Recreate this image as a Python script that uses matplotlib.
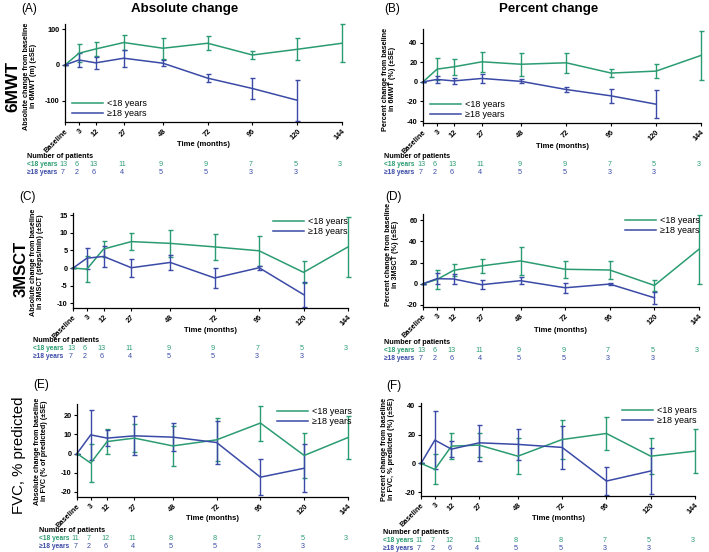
#import packages
import numpy as np
import matplotlib
matplotlib.use('Agg')
import matplotlib.pyplot as plt
from matplotlib.lines import Line2D
from matplotlib.transforms import blended_transform_factory

plt.rcParams['font.family'] = ['Liberation Sans', 'DejaVu Sans']

#time points
tick_labels = ['Baseline', '3', '12', '27', '48', '72', '96', '120', '144']
months = [0, 3, 12, 27, 48, 72, 96, 120, 144]

#6MWT absolute change (m)
mwt_abs_lt18 = [0, 33, 45, 63, 47, 61, 28, 44, 61]
mwt_abs_lt18_se = [0, 25, 20, 22, 30, 20, 12, 31, 53]
mwt_abs_ge18 = [0, 14, 6, 19, 5, -37, -66, -99]
mwt_abs_ge18_se = [0, 21, 17, 24, 8, 12, 30, 58]
#6MWT percent change
mwt_pct_lt18 = [0, 13, 15.4, 20.5, 18, 19.5, 9, 11, 27]
mwt_pct_lt18_se = [0, 11, 8, 10, 12, 10, 4.5, 7.5, 25]
mwt_pct_ge18 = [0, 2.5, 1, 3.5, 0.5, -7.8, -14.3, -22.8]
mwt_pct_ge18_se = [0, 4, 3, 5, 2, 2.5, 7, 14]
#3MSCT absolute change (steps/min)
msct_abs_lt18 = [0, -0.3, 5.4, 7.5, 7.0, 6.0, 4.9, -1.2, 6.0]
msct_abs_lt18_se = [0, 3.7, 2.3, 2.5, 3.8, 3.7, 4.3, 3.1, 8.6]
msct_abs_ge18 = [0, 2.8, 3.3, 0.1, 1.6, -2.8, 0.1, -7.5]
msct_abs_ge18_se = [0, 3.0, 2.9, 2.5, 2.1, 2.8, 0.5, 3.5]
#3MSCT percent change
msct_pct_lt18 = [0, 4, 12.7, 16.9, 21.6, 13.7, 13, -1.6, 32.7]
msct_pct_lt18_se = [0, 9, 5.7, 6.6, 13, 8, 8.7, 5, 32.5]
msct_pct_ge18 = [0, 4.8, 4.5, -0.9, 2.9, -3.8, -0.3, -13.3]
msct_pct_ge18_se = [0, 5, 4.3, 4.4, 3.2, 4.8, 0.8, 5.6]
#FVC absolute change (% of predicted)
fvc_abs_lt18 = [0, -5, 6.3, 8.1, 4, 7.2, 16, -1, 8.4]
fvc_abs_lt18_se = [0, 10, 6.5, 7.5, 10.7, 11.2, 9.2, 11.9, 11.3]
fvc_abs_ge18 = [0, 9.8, 8.1, 9.3, 8.6, 5.8, -12.4, -7.7]
fvc_abs_ge18_se = [0, 13.2, 4.4, 10.3, 7.5, 11.2, 9.3, 12.6]
#FVC percent change
fvc_pct_lt18 = [0, -4.2, 12, 12.7, 5, 16.6, 20.8, 5, 8.5]
fvc_pct_lt18_se = [0, 10.4, 9, 8.4, 12.7, 13.9, 11.8, 12.5, 15.4]
fvc_pct_ge18 = [0, 16.2, 9.9, 14.3, 13.2, 11.1, -12.3, -5.3]
fvc_pct_ge18_se = [0, 20, 5.6, 12.4, 10.6, 15, 9.7, 16]

#number of patients
n_lt18 = [13, 6, 13, 11, 9, 9, 7, 5, 3]
n_ge18 = [7, 2, 6, 4, 5, 5, 3, 3]
n_fvc_lt18 = [11, 7, 12, 11, 8, 8, 7, 5, 3]
n_fvc_ge18 = [7, 2, 6, 4, 5, 5, 3, 3]

green = '#2b9c72'
blue = '#3a4aa6'
W, H = 709.0, 552.0

#baseline is drawn a bit left of month 0
xpos = np.array(months, dtype=float)
xpos[0] = -4.5

fig = plt.figure(figsize=(W / 100, H / 100), dpi=100)


def fx(x):
    return x / W


def fy(y):
    return 1 - y / H


def panel(box, ylim, yticks, ylabel, lt, lt_se, ge, ge_se, nl, ng,
          leg_xy, ylab_xy, tab_x, tab_y, xlab_y):
    l, r, t, b = box
    ax = fig.add_axes([fx(l), fy(b), (r - l) / W, (b - t) / H])
    for y, se, c in [(lt, lt_se, green), (ge, ge_se, blue)]:
        eb = ax.errorbar(xpos[:len(y)], y, yerr=se, color=c, lw=1.1,
                         elinewidth=1.0, capsize=1.8, capthick=1.0)
        for art in eb.get_children():
            art.set_clip_on(False)
    ax.set_xlim(xpos[0], 144)
    ax.set_ylim(*ylim)
    ax.set_yticks(yticks)
    ax.set_yticklabels([str(v) for v in yticks], fontsize=5.3,
                       fontweight='bold')
    ax.set_xticks(xpos)
    ax.set_xticklabels(tick_labels, fontsize=5.3, fontweight='bold',
                       rotation=45, ha='right', rotation_mode='anchor')
    ax.tick_params(length=2.5, width=0.8, pad=1.5)
    ax.spines['top'].set_visible(False)
    ax.spines['right'].set_visible(False)
    for s in ['left', 'bottom']:
        ax.spines[s].set_linewidth(0.9)
    #legend with plain lines
    handles = [Line2D([], [], color=green, lw=1.1),
               Line2D([], [], color=blue, lw=1.1)]
    ax.legend(handles, ['<18 years', '≥18 years'], loc='upper left',
              bbox_to_anchor=(fx(leg_xy[0]), fy(leg_xy[1])),
              bbox_transform=fig.transFigure, frameon=False, fontsize=6.5,
              borderpad=0, borderaxespad=0, handlelength=3.4,
              handletextpad=0.5, labelspacing=0.12)
    #axis labels
    fig.text(fx(ylab_xy[0]), fy(ylab_xy[1]), ylabel, rotation=90,
             fontsize=5.2, fontweight='bold', ha='center', va='center',
             linespacing=1.15)
    fig.text(fx((l + r) / 2), fy(xlab_y), 'Time (months)', fontsize=5.5,
             fontweight='bold', ha='center', va='center')
    #number of patients table
    fig.text(fx(tab_x), fy(tab_y), 'Number of patients', fontsize=5.2,
             fontweight='bold', ha='left', va='center')
    fig.text(fx(tab_x), fy(tab_y + 8), '<18 years', fontsize=4.8,
             fontweight='bold', color=green, ha='left', va='center')
    fig.text(fx(tab_x), fy(tab_y + 16), '≥18 years', fontsize=4.8,
             fontweight='bold', color=blue, ha='left', va='center')
    tr = blended_transform_factory(ax.transData, fig.transFigure)
    for i, n in enumerate(nl):
        fig.text(xpos[i] - 1.0, fy(tab_y + 8), str(n), transform=tr,
                 fontsize=5.2, color=green, ha='center', va='center')
    for i, n in enumerate(ng):
        fig.text(xpos[i] - 1.0, fy(tab_y + 16), str(n), transform=tr,
                 fontsize=5.2, color=blue, ha='center', va='center')
    return ax


#panel A
panel((65, 342, 24, 122), (-160, 115), [-100, 0, 100],
      'Absolute change from baseline\nin 6MWT (m) (±SE)',
      mwt_abs_lt18, mwt_abs_lt18_se, mwt_abs_ge18, mwt_abs_ge18_se,
      n_lt18, n_ge18, (72, 99), (30, 76), 27, 157, 145)
#panel B
panel((423, 701, 29, 123), (-42, 54), [-40, -20, 0, 20, 40],
      'Percent change from baseline\nin 6MWT (%) (±SE)',
      mwt_pct_lt18, mwt_pct_lt18_se, mwt_pct_ge18, mwt_pct_ge18_se,
      n_lt18, n_ge18, (430, 100), (389, 79), 384, 157, 146)
#panel C
panel((73, 348, 213, 308), (-11.3, 15.6), [-10, -5, 0, 5, 10, 15],
      'Absolute change from baseline\nin 3MSCT (steps/min) (±SE)',
      msct_abs_lt18, msct_abs_lt18_se, msct_abs_ge18, msct_abs_ge18_se,
      n_lt18, n_ge18, (273, 217), (37, 262), 33, 341, 330)
#panel D
panel((423, 699, 214, 307), (-22, 66), [-20, 0, 20, 40, 60],
      'Percent change from baseline\nin 3MSCT (%) (±SE)',
      msct_pct_lt18, msct_pct_lt18_se, msct_pct_ge18, msct_pct_ge18_se,
      n_lt18, n_ge18, (625, 216), (392, 254), 384, 342, 330)
#panel E
panel((77, 348, 404, 497), (-22.8, 26), [-20, -10, 0, 10, 20],
      'Absolute change from baseline\nin FVC (% of predicted) (±SE)',
      fvc_abs_lt18, fvc_abs_lt18_se, fvc_abs_ge18, fvc_abs_ge18_se,
      n_fvc_lt18, n_fvc_ge18, (277, 407), (41, 451), 39, 531, 518)
#panel F
panel((421, 695, 403, 496), (-22.7, 42), [-20, 0, 20, 40],
      'Percent change from baseline\nin FVC, % predicted (%) (±SE)',
      fvc_pct_lt18, fvc_pct_lt18_se, fvc_pct_ge18, fvc_pct_ge18_se,
      n_fvc_lt18, n_fvc_ge18, (622, 406), (388, 449), 383, 532, 519)

#panel letters and column titles
for letter, x, y in [('(A)', 29, 9), ('(B)', 392, 9), ('(C)', 28, 197),
                     ('(D)', 393, 197), ('(E)', 41, 385), ('(F)', 394, 386)]:
    fig.text(fx(x), fy(y), letter, fontsize=8.5, ha='center', va='center')
fig.text(fx(185), fy(9), 'Absolute change', fontsize=9.6,
         fontweight='bold', ha='center', va='center')
fig.text(fx(549), fy(9), 'Percent change', fontsize=9.6,
         fontweight='bold', ha='center', va='center')

#row labels
fig.text(fx(13), fy(86), '6MWT', fontsize=12.5, fontweight='bold',
         rotation=90, ha='center', va='center')
fig.text(fx(21), fy(269), '3MSCT', fontsize=12, fontweight='bold',
         rotation=90, ha='center', va='center')
fig.text(fx(19), fy(455), 'FVC, % predicted', fontsize=10.8,
         rotation=90, ha='center', va='center')

#save figure
fig.savefig('out.png', dpi=100)
